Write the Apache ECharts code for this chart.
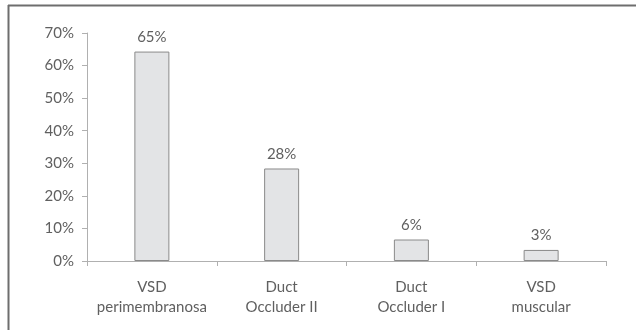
<!DOCTYPE html>
<html>
<head>
<meta charset="utf-8">
<script src="https://cdn.jsdelivr.net/npm/echarts@6/dist/echarts.min.js"></script>
<style>
  html, body { margin: 0; padding: 0; background: #fff; }
  #chart { width: 636px; height: 330px; }
</style>
</head>
<body>
<div id="chart"></div>
<script>
var categories = ['VSD\nperimembranosa', 'Duct\nOccluder II', 'Duct\nOccluder I', 'VSD\nmuscular'];
var values = [64.3, 28.4, 6.6, 3.4];
var valueLabels = ['65%', '28%', '6%', '3%'];

var textColor = '#606060';
var fontFamily = 'Lato, "DejaVu Sans", sans-serif';

const chart = echarts.init(document.getElementById('chart'));

option = {
    animation: false,
    grid: {
        left: 87,
        right: 30,
        top: 33,
        bottom: 69
    },
    // frame lines, only top and left as in the picture
    graphic: [
        {
            type: 'line',
            shape: { x1: 8, y1: 5.5, x2: 636, y2: 5.5 },
            style: { stroke: '#6e6e6e', lineWidth: 2 }
        },
        {
            type: 'line',
            shape: { x1: 8.5, y1: 5, x2: 8.5, y2: 330 },
            style: { stroke: '#6e6e6e', lineWidth: 2 }
        }
    ],
    xAxis: {
        type: 'category',
        data: categories,
        axisLine: { lineStyle: { color: '#b0b0b0' } },
        axisTick: { show: true, length: 5, lineStyle: { color: '#b0b0b0' } },
        axisLabel: {
            interval: 0,
            hideOverlap: false,
            color: textColor,
            fontFamily: fontFamily,
            fontSize: 15,
            lineHeight: 20,
            margin: 16
        }
    },
    yAxis: {
        type: 'value',
        min: 0,
        max: 70,
        interval: 10,
        splitLine: { show: false },
        axisLine: { show: true, lineStyle: { color: '#b0b0b0' } },
        axisTick: { show: true, length: 5, lineStyle: { color: '#b0b0b0' } },
        axisLabel: {
            color: textColor,
            fontFamily: fontFamily,
            fontSize: 15,
            margin: 13,
            formatter: '{value}%'
        }
    },
    series: [
        {
            type: 'bar',
            data: values,
            barWidth: 35,
            itemStyle: {
                color: '#e3e4e6',
                borderColor: '#8a8a8a',
                borderWidth: 1
            },
            label: {
                show: true,
                position: 'top',
                distance: 7,
                color: textColor,
                fontFamily: fontFamily,
                fontSize: 15,
                formatter: function (p) {
                    return valueLabels[p.dataIndex];
                }
            }
        }
    ]
};

chart.setOption(option);
</script>
</body>
</html>
